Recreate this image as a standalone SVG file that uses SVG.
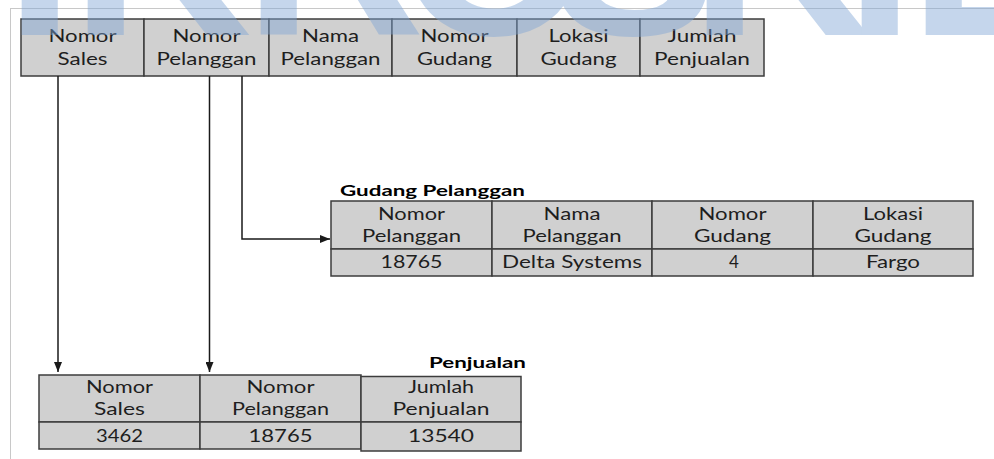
<svg xmlns="http://www.w3.org/2000/svg" width="994" height="459" viewBox="0 0 994 459">
<defs>
<marker id="arr" viewBox="0 0 10 8" refX="10" refY="4" markerWidth="10" markerHeight="8" markerUnits="userSpaceOnUse" orient="auto">
<path d="M0,0 L10,4 L0,8 z" fill="#1a1a1a"/>
</marker>
</defs>
<style>
.frame{stroke:#c8c8c8;stroke-width:1;fill:none}
.cell{fill:#d0d0d0;stroke:#3c3c3c;stroke-width:1.5}
.t{font-family:Lato,"Open Sans",sans-serif;font-size:17px;fill:#1e1e1e;text-anchor:middle}
.title{font-family:Lato,"Open Sans",sans-serif;font-size:16px;font-weight:bold;fill:#000}
.conn{stroke:#1a1a1a;stroke-width:1.5;fill:none;marker-end:url(#arr)}
.wm{font-family:"Liberation Sans",Arial,sans-serif;font-weight:bold;font-size:250px;fill:#7fa6d6}
</style>
<rect width="994" height="459" fill="#ffffff"/>
<g id="frame">
<path class="frame" d="M10,8.5 H994 M10.5,8 V459"/>
</g>
<g id="table-awal">
<rect class="cell" x="21" y="19" width="123" height="57"/>
<rect class="cell" x="144" y="19" width="125" height="57"/>
<rect class="cell" x="269" y="19" width="123" height="57"/>
<rect class="cell" x="392" y="19" width="125" height="57"/>
<rect class="cell" x="517" y="19" width="123" height="57"/>
<rect class="cell" x="640" y="19" width="124" height="57"/>
<text class="t" x="82.5" y="42" textLength="68" lengthAdjust="spacingAndGlyphs">Nomor</text>
<text class="t" x="82.5" y="65" textLength="50" lengthAdjust="spacingAndGlyphs">Sales</text>
<text class="t" x="206.5" y="42" textLength="68" lengthAdjust="spacingAndGlyphs">Nomor</text>
<text class="t" x="206.5" y="65" textLength="100" lengthAdjust="spacingAndGlyphs">Pelanggan</text>
<text class="t" x="330.5" y="42" textLength="57" lengthAdjust="spacingAndGlyphs">Nama</text>
<text class="t" x="330.5" y="65" textLength="100" lengthAdjust="spacingAndGlyphs">Pelanggan</text>
<text class="t" x="454.5" y="42" textLength="68" lengthAdjust="spacingAndGlyphs">Nomor</text>
<text class="t" x="454.5" y="65" textLength="75" lengthAdjust="spacingAndGlyphs">Gudang</text>
<text class="t" x="578.5" y="42" textLength="60" lengthAdjust="spacingAndGlyphs">Lokasi</text>
<text class="t" x="578.5" y="65" textLength="76" lengthAdjust="spacingAndGlyphs">Gudang</text>
<text class="t" x="702" y="42" textLength="69" lengthAdjust="spacingAndGlyphs">Jumlah</text>
<text class="t" x="702" y="65" textLength="96" lengthAdjust="spacingAndGlyphs">Penjualan</text>
</g>
<g id="gudang-pelanggan">
<text class="title" x="340" y="196" textLength="185" lengthAdjust="spacingAndGlyphs">Gudang Pelanggan</text>
<rect class="cell" x="331" y="201" width="161" height="48"/>
<rect class="cell" x="492" y="201" width="160" height="48"/>
<rect class="cell" x="652" y="201" width="161" height="48"/>
<rect class="cell" x="813" y="201" width="160" height="48"/>
<rect class="cell" x="331" y="249" width="161" height="27"/>
<rect class="cell" x="492" y="249" width="160" height="27"/>
<rect class="cell" x="652" y="249" width="161" height="27"/>
<rect class="cell" x="813" y="249" width="160" height="27"/>
<text class="t" x="411.5" y="220" textLength="67" lengthAdjust="spacingAndGlyphs">Nomor</text>
<text class="t" x="411.5" y="242" textLength="99" lengthAdjust="spacingAndGlyphs">Pelanggan</text>
<text class="t" x="572" y="220" textLength="57" lengthAdjust="spacingAndGlyphs">Nama</text>
<text class="t" x="572" y="242" textLength="99" lengthAdjust="spacingAndGlyphs">Pelanggan</text>
<text class="t" x="732.5" y="220" textLength="68" lengthAdjust="spacingAndGlyphs">Nomor</text>
<text class="t" x="732.5" y="242" textLength="77" lengthAdjust="spacingAndGlyphs">Gudang</text>
<text class="t" x="893" y="220" textLength="60" lengthAdjust="spacingAndGlyphs">Lokasi</text>
<text class="t" x="893" y="242" textLength="77" lengthAdjust="spacingAndGlyphs">Gudang</text>
<text class="t" x="411.5" y="268" textLength="62" lengthAdjust="spacingAndGlyphs">18765</text>
<text class="t" x="572" y="268" textLength="140" lengthAdjust="spacingAndGlyphs">Delta Systems</text>
<text class="t" x="734" y="268">4</text>
<text class="t" x="893" y="268" textLength="54" lengthAdjust="spacingAndGlyphs">Fargo</text>
</g>
<g id="penjualan">
<text class="title" x="429" y="368" textLength="97" lengthAdjust="spacingAndGlyphs">Penjualan</text>
<rect class="cell" x="39" y="375" width="161" height="47"/>
<rect class="cell" x="200" y="375" width="161" height="47"/>
<rect class="cell" x="39" y="422" width="161" height="27"/>
<rect class="cell" x="200" y="422" width="161" height="27"/>
<rect class="cell" x="361" y="376.5" width="160" height="45.5"/>
<rect class="cell" x="361" y="422" width="160" height="29"/>
<text class="t" x="119.5" y="393" textLength="67" lengthAdjust="spacingAndGlyphs">Nomor</text>
<text class="t" x="119.5" y="415" textLength="51" lengthAdjust="spacingAndGlyphs">Sales</text>
<text class="t" x="280.5" y="393" textLength="68" lengthAdjust="spacingAndGlyphs">Nomor</text>
<text class="t" x="280.5" y="415" textLength="97" lengthAdjust="spacingAndGlyphs">Pelanggan</text>
<text class="t" x="441" y="393" textLength="66" lengthAdjust="spacingAndGlyphs">Jumlah</text>
<text class="t" x="441" y="415" textLength="97" lengthAdjust="spacingAndGlyphs">Penjualan</text>
<text class="t" x="119.5" y="442" textLength="47" lengthAdjust="spacingAndGlyphs">3462</text>
<text class="t" x="280.5" y="442" textLength="64" lengthAdjust="spacingAndGlyphs">18765</text>
<text class="t" x="441" y="442" textLength="66" lengthAdjust="spacingAndGlyphs">13540</text>
</g>
<g id="connectors">
<path class="conn" d="M58,76 V372"/>
<path class="conn" d="M209.5,76 V372"/>
<path class="conn" d="M242,76 V239 H330"/>
</g>
<g id="watermark">
<text class="wm" opacity="0.45" x="5 71 244 397 550 690 845 909" y="35">IKROSKIL</text>
</g>
</svg>
